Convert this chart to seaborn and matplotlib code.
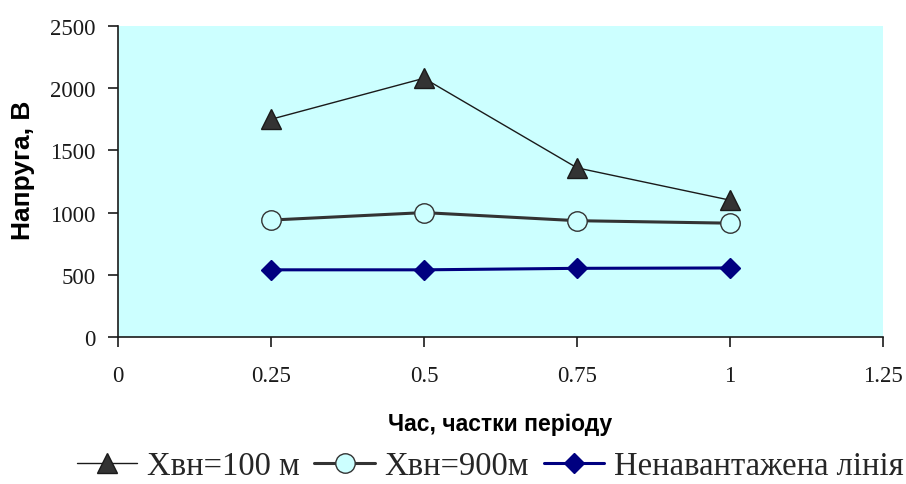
import matplotlib
matplotlib.use("Agg")
import matplotlib.pyplot as plt
import seaborn as sns
import pandas as pd

# Time as fractions of the period and voltage values for each case
time_frac = [0.25, 0.5, 0.75, 1.0]
u_100m = [1750, 2080, 1360, 1100]
u_900m = [940, 1000, 935, 915]
u_idle = [540, 540, 552, 555]

series_names = ["Хвн=100 м", "Хвн=900м", "Ненавантажена лінія"]

x_ticks = [0, 0.25, 0.5, 0.75, 1, 1.25]
x_tick_labels = ["0", "0.25", "0.5", "0.75", "1", "1.25"]
y_ticks = [0, 500, 1000, 1500, 2000, 2500]

sns.set_theme(style="white")
plt.rcParams["font.family"] = ["Liberation Serif", "DejaVu Serif"]

fig = plt.figure(figsize=(9.06, 4.85), dpi=100)
ax = fig.add_axes([0.1302, 0.3031, 0.8444, 0.6412])
ax.set_facecolor("#CCFFFF")

df = pd.DataFrame({
    "t": time_frac * 3,
    "u": u_100m + u_900m + u_idle,
    "s": [series_names[0]] * 4 + [series_names[1]] * 4 + [series_names[2]] * 4,
})

styles = [
    dict(color="#1a1a1a", lw=1.0, marker="^", ms=14, mfc="#333333", mec="#1a1a1a"),
    dict(color="#333333", lw=2.2, marker="o", ms=14, mfc="#CCFFFF", mec="#333333"),
    dict(color="#000080", lw=2.2, marker="D", ms=10, mfc="#000080", mec="#000080"),
]

for name, st in zip(series_names, styles):
    sub = df[df["s"] == name]
    sns.lineplot(data=sub, x="t", y="u", ax=ax, label=name,
                 color=st["color"], linewidth=st["lw"], marker=st["marker"],
                 markersize=st["ms"], markerfacecolor=st["mfc"],
                 markeredgecolor=st["mec"], markeredgewidth=1.0)

ax.set_xlim(0, 1.25)
ax.set_ylim(0, 2500)
ax.set_xticks(x_ticks)
ax.set_xticklabels(x_tick_labels)
ax.set_yticks(y_ticks)

for side in ("top", "right"):
    ax.spines[side].set_visible(False)
for side in ("left", "bottom"):
    ax.spines[side].set_color("#1a1a1a")
    ax.spines[side].set_linewidth(1.2)

ax.tick_params(axis="both", direction="out", length=7, width=1.2,
               colors="#1a1a1a", labelsize=16.5, left=True, bottom=True)
ax.tick_params(axis="x", pad=13)
ax.tick_params(axis="y", pad=9)

ax.set_xlabel("Час, частки періоду", fontsize=16.5, fontweight="bold",
              family=["Liberation Sans", "DejaVu Sans"], labelpad=19, color="black")
ax.set_ylabel("Напруга, В", fontsize=19, fontweight="bold",
              family=["Liberation Sans", "DejaVu Sans"], color="black")
ax.yaxis.set_label_coords(-0.124, 0.54)
ax.yaxis.label.set_va("center")

handles, labels = ax.get_legend_handles_labels()
ax.get_legend().remove()
fig.legend(handles, labels, loc="center", bbox_to_anchor=(0.541, 0.037), ncol=3,
           frameon=False,
           prop={"family": ["Liberation Serif", "DejaVu Serif"], "size": 23.5},
           handlelength=1.85, columnspacing=0.45, handletextpad=0.3,
           borderaxespad=0, borderpad=0)

fig.savefig("out.png", dpi=100, facecolor="white")
